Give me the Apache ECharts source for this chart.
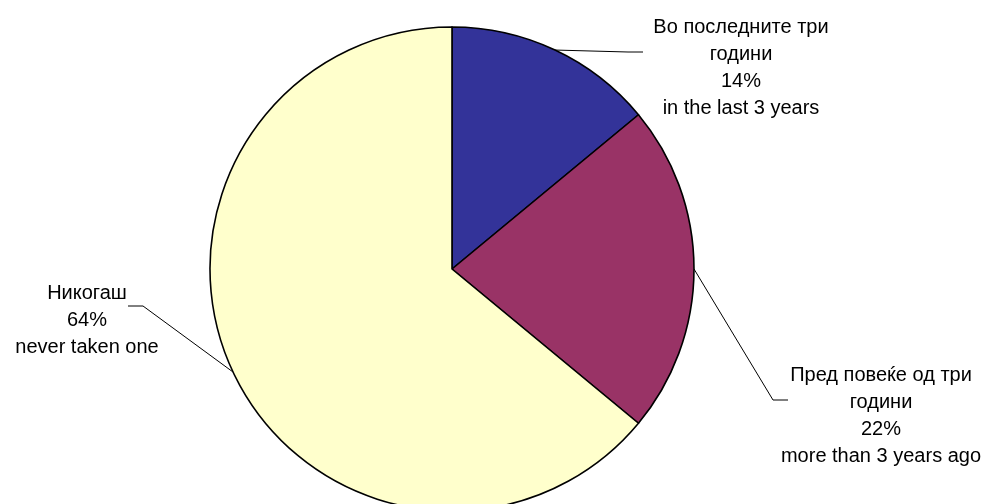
<!DOCTYPE html>
<html>
<head>
<meta charset="utf-8">
<script src="https://cdn.jsdelivr.net/npm/echarts@6/dist/echarts.min.js"></script>
<style>
html,body{margin:0;padding:0;background:#fff;}
#c{width:986px;height:504px;}
</style>
</head>
<body>
<div id="c"></div>
<script>
// Data
var categoriesMk = ['Во последните три\nгодини', 'Пред повеќе од три\nгодини', 'Никогаш'];
var categoriesEn = ['in the last 3 years', 'more than 3 years ago', 'never taken one'];
var values = [14, 22, 64];

// Presentation
var colors = ['#333399', '#993366', '#FFFFCC'];
var labelPos = [[741, 68], [881, 416], [87, 320]];
var lineBends = [[[628, 52], [643, 52]], [[773, 400], [788, 400]], [[143, 306], [128, 306]]];

var seriesData = values.map(function (v, i) {
  return { value: v, name: categoriesMk[i], en: categoriesEn[i], itemStyle: { color: colors[i] } };
});

var chart = echarts.init(document.getElementById('c'));
chart.setOption({
  animation: false,
  backgroundColor: '#ffffff',
  series: [{
    type: 'pie',
    center: [452, 269],
    radius: 242,
    startAngle: 90,
    clockwise: true,
    data: seriesData,
    itemStyle: { borderColor: '#000', borderWidth: 1.6 },
    emphasis: { disabled: true },
    label: {
      show: true,
      position: 'outside',
      color: '#000',
      fontFamily: 'Liberation Sans, Arial, sans-serif',
      fontSize: 20,
      lineHeight: 27,
      align: 'center',
      formatter: function (p) {
        return p.name + '\n' + p.value + '%\n' + p.data.en;
      }
    },
    labelLine: { show: true, lineStyle: { color: '#000', width: 1 } },
    labelLayout: function (params) {
      var i = params.dataIndex;
      var start = params.labelLinePoints ? params.labelLinePoints[0] : lineBends[i][0];
      return {
        x: labelPos[i][0],
        y: labelPos[i][1],
        align: 'center',
        verticalAlign: 'middle',
        labelLinePoints: [start, lineBends[i][0], lineBends[i][1]]
      };
    }
  }]
});
</script>
</body>
</html>
